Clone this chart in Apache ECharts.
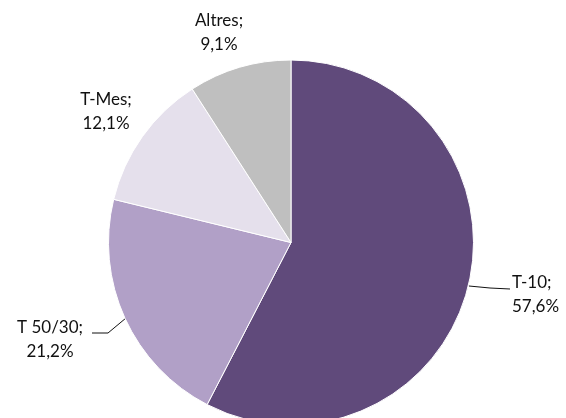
<!DOCTYPE html>
<html>
<head>
<meta charset="utf-8">
<script src="https://cdn.jsdelivr.net/npm/echarts@6/dist/echarts.min.js"></script>
<style>
html,body{margin:0;padding:0;background:#fff;}
#chart{width:566px;height:418px;}
</style>
</head>
<body>
<div id="chart"></div>
<script>
const categories = ['T-10', 'T 50/30', 'T-Mes', 'Altres'];
const shares = [57.6, 21.2, 12.1, 9.1];
const colors = ['#604A7B', '#B1A0C7', '#E5E0EC', '#BFBFBF'];

const labelSpots = [
  {x: 512, y: 295, align: 'left', line: [[469, 286], [490, 288], [510, 289]]},
  {x: 50, y: 340, align: 'center', line: [[126, 318], [108, 333], [92, 333]]},
  {x: 106, y: 112, align: 'center', line: null},
  {x: 219, y: 33, align: 'center', line: null}
];

const chart = echarts.init(document.getElementById('chart'), null, {renderer: 'canvas'});
chart.setOption({
  animation: false,
  series: [{
    type: 'pie',
    center: [291, 242.5],
    radius: 182.5,
    startAngle: 90,
    clockwise: true,
    data: categories.map((c, i) => ({name: c, value: shares[i], itemStyle: {color: colors[i]}})),
    itemStyle: {borderColor: '#ffffff', borderWidth: 1},
    label: {
      show: true,
      formatter: p => p.name + ';\n' + p.value.toFixed(1).replace('.', ',') + '%',
      fontFamily: 'Lato',
      fontSize: 17,
      lineHeight: 24,
      color: '#111111',
      overflow: 'none'
    },
    labelLine: {show: true, lineStyle: {color: '#111111', width: 1}},
    labelLayout: function (params) {
      const s = labelSpots[params.dataIndex];
      const out = {x: s.x, y: s.y, align: s.align, verticalAlign: 'middle'};
      if (s.line) { out.labelLinePoints = s.line; }
      else { out.labelLinePoints = [[0,0],[0,0],[0,0]]; }
      return out;
    },
    emphasis: {disabled: true}
  }]
});
</script>
</body>
</html>
